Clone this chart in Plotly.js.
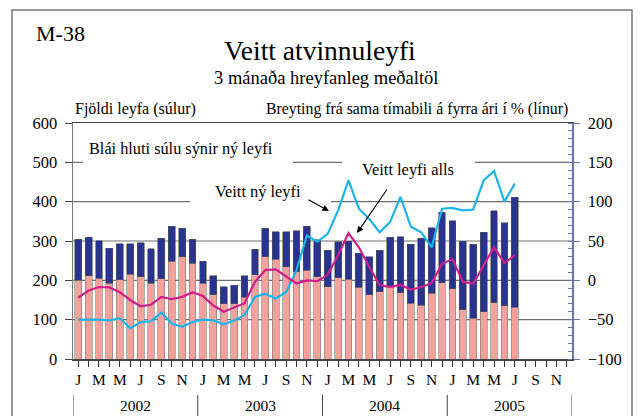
<!DOCTYPE html>
<html>
<head>
<meta charset="utf-8">
<script src="https://cdn.plot.ly/plotly-3.0.1.min.js"></script>
<style>html,body{margin:0;padding:0;background:#fff;}#chart{width:640px;height:416px;}</style>
</head>
<body>
<div id="chart"></div>
<script>
// Months Jan 2002 .. Jul 2005 (index 0..42), axis runs to Dec 2005
const monthLetters = ["J","","M","","M","","J","","S","","N",""];
const years = ["2002","2003","2004","2005"];

// Bars: salmon part (other permits) and blue part (new permits)
const otherPermits = [200,212,205,193,201,215,209,193,204,249,260,243,
                      193,163,140,140,157,214,260,254,235,222,226,209,
                      184,207,203,182,163,171,184,169,142,137,167,194,
                      179,125,104,120,143,136,131];
const newPermits   = [105,98,96,89,92,78,87,87,103,89,73,62,
                      56,49,44,47,55,65,72,70,89,104,112,94,
                      92,91,97,87,97,106,126,142,150,170,167,179,
                      173,175,188,202,234,211,280];

// Lines: % change from same period previous year
const changeAll = [-50,-50,-50,-51,-48,-61,-53,-52,-41,-55,-59,-53,
                   -50,-51,-56,-51,-44,-21,-17,-23,-15,13,57,49,
                   59,89,127,91,78,61,74,106,68,61,42,91,
                   92,89,90,127,139,100,123];
const changeNew = [-22,-13,-8.5,-9,-15,-25,-33,-31,-21,-24,-21,-15,
                   -20,-32,-40,-34,-29,-2,13,14,5,-4,0,-1,
                   7,32,60,42,17,-6,-8.5,-5.5,-12,-8.5,-3.5,21,
                   27,-2,-4,19,42,22,32];

const nMonths = 48;
const xAll = Array.from({length: nMonths}, (_, i) => i);
const xData = Array.from({length: otherPermits.length}, (_, i) => i);
const tickText = xAll.map(i => monthLetters[i % 12]);

const F = "'Liberation Serif', 'Times New Roman', serif";
const salmon = "#F4A29C", navy = "#29348E", cyan = "#1CB3EA", magenta = "#D01F8C";
const axBlue = "#6A72B6";

// plot area in pixels: x 73..572, y 123..359
const L = 73, R = 572, T = 123, B = 359;
const px = v => (v - L) / (R - L);
const py = v => (B - v) / (B - T);

const traces = [
  {type: "bar", x: xData, y: otherPermits, marker: {color: salmon, line: {color: "#7a7a7a", width: 0.6}},
   width: 0.66, hoverinfo: "skip", showlegend: false},
  {type: "bar", x: xData, y: newPermits, marker: {color: navy, line: {color: "#555", width: 0.6}},
   width: 0.66, hoverinfo: "skip", showlegend: false},
  {type: "scatter", mode: "lines", x: xData, y: changeAll, yaxis: "y2",
   line: {color: cyan, width: 2.2}, showlegend: false},
  {type: "scatter", mode: "lines", x: xData, y: changeNew, yaxis: "y2",
   line: {color: magenta, width: 2.2}, showlegend: false}
];

const grid = "#6e6e6e";
const shapes = [];
function hseg(yv, a, b) {
  shapes.push({type: "line", xref: "paper", yref: "y", x0: px(a), x1: px(b), y0: yv, y1: yv,
               line: {color: grid, width: 1.2}, layer: "below"});
}
hseg(100, L, R); hseg(200, L, R); hseg(300, L, R);
hseg(400, L, 190); hseg(400, 331, R);
hseg(500, L, 83); hseg(500, 293, 342); hseg(500, 475, R);

// year separators
[-0.5, 11.5, 23.5, 35.5, 47.5].forEach(xv => {
  shapes.push({type: "line", xref: "x", yref: "paper", x0: xv, x1: xv, y0: py(395), y1: py(418),
               line: {color: "#444", width: 1}});
});
// outer frame
shapes.push({type: "rect", xref: "paper", yref: "paper", x0: px(12), x1: px(632), y0: py(430), y1: py(10),
             line: {color: "#777", width: 1.5}, fillcolor: "rgba(0,0,0,0)"});

const annotations = [
  {text: "M-38", xref: "paper", yref: "paper", x: px(34), y: py(34), xanchor: "left", yanchor: "middle",
   showarrow: false, font: {family: F, size: 22, color: "#000"}},
  {text: "Veitt atvinnuleyfi", xref: "paper", yref: "paper", x: px(320), y: py(51), xanchor: "center", yanchor: "middle",
   showarrow: false, font: {family: F, size: 27.5, color: "#000"}},
  {text: "3 mánaða hreyfanleg meðaltöl", xref: "paper", yref: "paper", x: px(326), y: py(78), xanchor: "center", yanchor: "middle",
   showarrow: false, font: {family: F, size: 18.5, color: "#000"}},
  {text: "Fjöldi leyfa (súlur)", xref: "paper", yref: "paper", x: px(73), y: py(109), xanchor: "left", yanchor: "middle",
   showarrow: false, font: {family: F, size: 16, color: "#000"}},
  {text: "Breyting frá sama tímabili á fyrra ári í % (línur)", xref: "paper", yref: "paper", x: px(570), y: py(109),
   xanchor: "right", yanchor: "middle", showarrow: false, font: {family: F, size: 15.8, color: "#000"}},
  {text: "Blái hluti súlu sýnir ný leyfi", xref: "paper", yref: "paper", x: px(87), y: py(148), xanchor: "left", yanchor: "middle",
   showarrow: false, font: {family: F, size: 16.3, color: "#000"}},
  {text: "Veitt leyfi alls", xref: "paper", yref: "paper", x: px(360), y: py(169), xanchor: "left", yanchor: "middle",
   showarrow: false, font: {family: F, size: 16.4, color: "#000"}},
  {text: "Veitt ný leyfi", xref: "paper", yref: "paper", x: px(213), y: py(191), xanchor: "left", yanchor: "middle",
   showarrow: false, font: {family: F, size: 16.4, color: "#000"}},
  // arrows
  {text: "", xref: "paper", yref: "paper", x: px(329), y: py(211), ax: -22, ay: -12, axref: "pixel", ayref: "pixel",
   showarrow: true, arrowhead: 2, arrowsize: 1.2, arrowwidth: 1.1, arrowcolor: "#000"},
  {text: "", xref: "paper", yref: "paper", x: px(357), y: py(233), ax: 31, ay: -45, axref: "pixel", ayref: "pixel",
   showarrow: true, arrowhead: 2, arrowsize: 1.2, arrowwidth: 1.1, arrowcolor: "#000"}
];
years.forEach((yr, k) => {
  annotations.push({text: yr, xref: "x", yref: "paper", x: 5.5 + 12 * k, y: py(405), xanchor: "center", yanchor: "middle",
                    showarrow: false, font: {family: F, size: 15.5, color: "#000"}});
});

const layout = {
  width: 640, height: 416,
  margin: {l: L, r: 640 - R, t: T, b: 416 - B, pad: 0},
  paper_bgcolor: "#fff", plot_bgcolor: "#fff",
  barmode: "stack", bargap: 0.3,
  showlegend: false,
  font: {family: F, color: "#000"},
  xaxis: {range: [-0.5, 47.5], tickmode: "array", tickvals: xAll, ticktext: tickText,
          ticks: "outside", ticklen: 6, tickcolor: "#333", tickwidth: 1,
          showline: true, linecolor: "#444", linewidth: 1.5, mirror: true,
          showgrid: false, zeroline: false, tickangle: 0,
          tickfont: {family: F, size: 15.5, color: "#000"}, fixedrange: true},
  yaxis: {range: [0, 600], dtick: 100, ticks: "outside", ticklen: 7, tickcolor: "#444",
          showline: true, linecolor: "#777", linewidth: 1.5, showgrid: false, zeroline: false,
          tickfont: {family: F, size: 16.5, color: "#000"}, ticklabelstandoff: 4, fixedrange: true},
  yaxis2: {range: [-100, 200], dtick: 50, overlaying: "y", side: "right",
           ticks: "outside", ticklen: 6, tickcolor: axBlue, tickwidth: 1,
           minor: {dtick: 10, ticks: "inside", ticklen: 4, tickcolor: axBlue, showgrid: false},
           showline: true, linecolor: axBlue, linewidth: 1.5, showgrid: false, zeroline: false,
           tickfont: {family: F, size: 16.5, color: "#000"}, ticklabelstandoff: 5, fixedrange: true},
  shapes: shapes,
  annotations: annotations
};

Plotly.newPlot("chart", traces, layout, {staticPlot: true, displayModeBar: false});
</script>
</body>
</html>
